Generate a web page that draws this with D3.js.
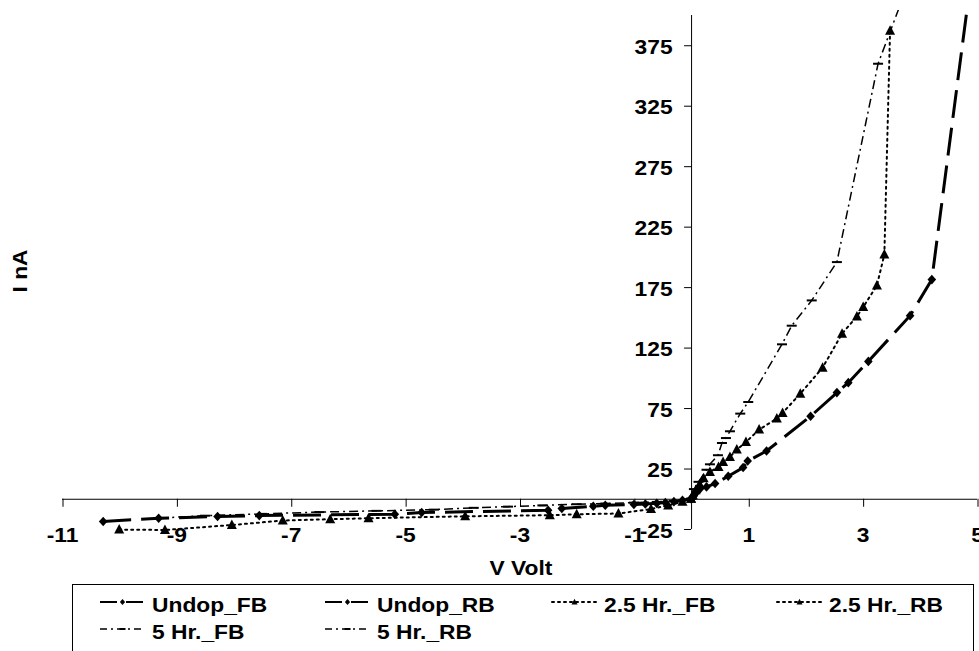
<!DOCTYPE html>
<html>
<head>
<meta charset="UTF-8">
<title>I-V characteristics</title>
<style>
  body { margin: 0; background: #fff; }
  svg text {
    font-family: "Liberation Sans", Arial, sans-serif;
    font-weight: bold;
    font-size: 20px;
    fill: #000;
  }
</style>
</head>
<body>
<svg id="chart" width="979" height="651"></svg>
<script src="https://cdnjs.cloudflare.com/ajax/libs/d3/7.8.5/d3.min.js"></script>
<script>
// tick labels
const xTicks = [-11, -9, -7, -5, -3, -1, 1, 3, 5];
const yTicks = [-25, 25, 75, 125, 175, 225, 275, 325, 375];

// series names
const seriesNames = ["Undop_FB", "Undop_RB", "2.5 Hr._FB", "2.5 Hr._RB", "5 Hr._FB", "5 Hr._RB"];

// values (V in volt, I in nA)
const undopFB_V = [0, 0.05, 0.10, 0.16, 0.27, 0.42, 0.65, 0.91, 0.99, 1.32, 2.09, 2.55, 2.75, 3.10, 3.83, 4.21, 4.89];
const undopFB_I = [0, 2.5, 5.6, 8.4, 9.8, 12.6, 18.6, 25.8, 31.2, 39.5, 68.2, 87.8, 96, 113.6, 151.4, 181.2, 428];

const undopRB_V = [-10.28, -9.31, -8.28, -7.55, -5.18, -4.71, -2.5, -2.26, -1.71, -1.5, -1.0, -0.8, -0.6, -0.45, -0.3, -0.15, 0];
const undopRB_I = [-18.8, -16.1, -14.7, -13.9, -12.8, -11.4, -9.5, -8.1, -6.2, -5.4, -4.8, -4.3, -3.8, -3.2, -2.4, -1.2, 0];

const hr25FB_V = [0, 0.03, 0.08, 0.15, 0.22, 0.33, 0.48, 0.56, 0.68, 0.80, 0.96, 1.19, 1.50, 1.60, 1.91, 2.30, 2.64, 2.90, 3.01, 3.25, 3.38, 3.48];
const hr25FB_I = [0, 3, 7, 12, 17, 22.1, 26.3, 30.4, 34.5, 40.7, 46.9, 57.2, 66.3, 70.9, 86.9, 108.4, 136.5, 150.8, 158.5, 176.4, 202, 387];

const hr25RB_V = [-10.0, -9.2, -8.03, -7.14, -6.31, -5.64, -3.95, -2.47, -2.0, -1.27, -0.7, -0.4, -0.15, 0];
const hr25RB_I = [-25.5, -25.8, -21.7, -18, -16.9, -16.1, -14.5, -13.6, -12.8, -12.2, -8.5, -5.5, -2.5, 0];

const hr5FB_V = [0, 0.05, 0.13, 0.27, 0.33, 0.47, 0.54, 0.61, 0.68, 0.86, 1.00, 1.59, 1.76, 2.11, 2.55, 3.27, 3.75];
const hr5FB_I = [0, 8, 14, 24, 28.5, 36, 46.1, 50.2, 55.8, 70.4, 80, 127.7, 143.1, 164, 195.7, 359.7, 420];

const hr5RB_V = [-9.3, -8.5, -7.5, -6.5, -5.5, -4.5, -3.8, -3.2, -2.6, -2.0, -1.5, -1.0, -0.6, -0.3, -0.1, 0];
const hr5RB_I = [-16, -14, -12.5, -11, -10, -9, -7.5, -6.5, -5.5, -4.5, -4, -3.2, -2.6, -1.8, -0.8, 0];

const zip = (a, b) => a.map((v, i) => [v, b[i]]);

// styles per group
const styles = {
  undop: { width: 3, dash: "28,10", legendWidth: 2.2, legendDash: "17,9", marker: "diamond" },
  hr25:  { width: 2, dash: "2,4",   legendWidth: 2, legendDash: "2,4",  marker: "triangle" },
  hr5:   { width: 1.5, dash: "9,4,2,4", legendWidth: 1.6, legendDash: "7,4,2,4", marker: "bar" }
};

const series = [
  { name: seriesNames[0], style: styles.undop, data: zip(undopFB_V, undopFB_I) },
  { name: seriesNames[1], style: styles.undop, data: zip(undopRB_V, undopRB_I) },
  { name: seriesNames[2], style: styles.hr25,  data: zip(hr25FB_V, hr25FB_I) },
  { name: seriesNames[3], style: styles.hr25,  data: zip(hr25RB_V, hr25RB_I) },
  { name: seriesNames[4], style: styles.hr5,   data: zip(hr5FB_V, hr5FB_I) },
  { name: seriesNames[5], style: styles.hr5,   data: zip(hr5RB_V, hr5RB_I) }
];

const svg = d3.select("#chart");
const SX = 1.14; // the text in the picture is a little wider than Arial

const x = d3.scaleLinear().domain([-11, 5]).range([62, 977]);
const y = d3.scaleLinear().domain([-25, 400]).range([529, 15]);

// clip for the curves that run off the top
svg.append("clipPath").attr("id", "plotClip")
  .append("rect").attr("x", 0).attr("y", 10).attr("width", 979).attr("height", 641);

// x axis (crosses at I = 0)
const xAxis = d3.axisBottom(x).tickValues(xTicks).tickSize(8).tickSizeOuter(0).tickFormat(d => String(d));
const gx = svg.append("g").attr("transform", `translate(0,${y(0)})`).call(xAxis);
gx.select(".domain").attr("stroke", "#000").attr("d", `M${x(-11)},0.5H${x(5)}`);
gx.selectAll(".tick line").attr("stroke", "#000").attr("transform", "translate(0.5,0)");
gx.selectAll(".tick text")
  .attr("y", 43).attr("dy", null)
  .attr("transform", `scale(${SX},1)`);

// y axis (crosses at V = 0)
const yAxis = d3.axisLeft(y).tickValues(yTicks).tickSize(7).tickSizeOuter(0).tickFormat(d => String(d));
const gy = svg.append("g").attr("transform", `translate(${x(0)},0)`).call(yAxis);
gy.select(".domain").attr("stroke", "#000").attr("d", `M0.5,${y(400)}V${y(-25)}`);
gy.selectAll(".tick line").attr("stroke", "#000");
gy.selectAll(".tick text")
  .attr("x", -18.5 / SX).attr("dy", null).attr("y", 8)
  .attr("transform", `scale(${SX},1)`);
gx.attr("font-family", null).attr("font-size", null);
gy.attr("font-family", null).attr("font-size", null);

// axis titles
svg.append("text")
  .attr("transform", `translate(521,575) scale(${SX},1)`)
  .attr("text-anchor", "middle")
  .text("V Volt");
svg.append("text")
  .attr("transform", `translate(27,271) rotate(-90) scale(${SX},1)`)
  .attr("text-anchor", "middle")
  .text("I nA");

// markers
function drawMarker(g, type, cx, cy, s) {
  if (type === "diamond") {
    g.append("path").attr("d", `M${cx},${cy - 4.8 * s}L${cx + 4.3 * s},${cy}L${cx},${cy + 4.8 * s}L${cx - 4.3 * s},${cy}Z`)
      .attr("fill", "#000");
  } else if (type === "triangle") {
    g.append("path").attr("d", `M${cx},${cy - 5.5 * s}L${cx + 5 * s},${cy + 4 * s}L${cx - 5 * s},${cy + 4 * s}Z`)
      .attr("fill", "#000");
  } else {
    g.append("line").attr("x1", cx - 5 * s).attr("x2", cx + 5 * s).attr("y1", cy).attr("y2", cy)
      .attr("stroke", "#000").attr("stroke-width", 2);
  }
}

const line = d3.line().x(d => x(d[0])).y(d => y(d[1]));
const plot = svg.append("g").attr("clip-path", "url(#plotClip)");

series.forEach(s => {
  const g = plot.append("g");
  g.append("path")
    .attr("d", line(s.data))
    .attr("fill", "none")
    .attr("stroke", "#000")
    .attr("stroke-width", s.style.width)
    .attr("stroke-dasharray", s.style.dash)
    .attr("stroke-linecap", s.style.marker === "triangle" ? "round" : "butt");
  s.data.forEach(d => drawMarker(g, s.style.marker, x(d[0]), y(d[1]), 1));
});

// legend
const legend = svg.append("g");
legend.append("rect")
  .attr("x", 72.5).attr("y", 584.5).attr("width", 901).attr("height", 90)
  .attr("fill", "#fff").attr("stroke", "#000").attr("stroke-width", 1);

const colX = [100, 325, 552, 777];
const rowY = [602, 629];
series.forEach((s, i) => {
  const lx = colX[i % 4], ly = rowY[Math.floor(i / 4)];
  legend.append("line")
    .attr("x1", lx).attr("x2", lx + 45).attr("y1", ly).attr("y2", ly)
    .attr("stroke", "#000")
    .attr("stroke-width", s.style.legendWidth)
    .attr("stroke-dasharray", s.style.legendDash)
    .attr("stroke-linecap", s.style.marker === "triangle" ? "round" : "butt");
  drawMarker(legend, s.style.marker, lx + 22.5, ly, 0.6);
  legend.append("text")
    .attr("transform", `translate(${lx + 52},${ly + 9.5}) scale(${SX},1)`)
    .text(s.name);
});
</script>
</body>
</html>
